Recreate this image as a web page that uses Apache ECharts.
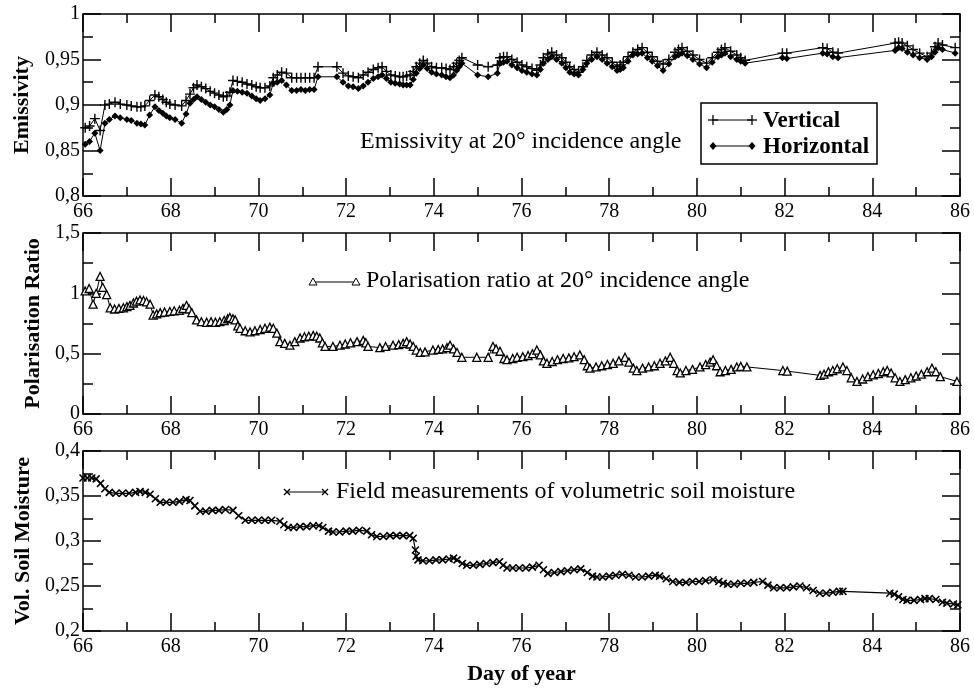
<!DOCTYPE html>
<html><head><meta charset="utf-8">
<script src="https://cdn.jsdelivr.net/npm/echarts@6/dist/echarts.min.js"></script>
<style>html,body{margin:0;padding:0;background:#fff}#c{width:974px;height:689px}</style>
</head><body><div id="c"></div>
<script>
// ---------- DATA ----------
const emisDays = [
66.05,66.15,66.27,66.39,66.5,66.6,66.73,66.85,67.0,67.1,
67.23,67.32,67.41,67.52,67.64,67.73,67.82,67.9,67.98,68.1,
68.25,68.35,68.44,68.52,68.6,68.7,68.8,68.9,69.0,69.1,
69.2,69.28,69.35,69.42,69.52,69.63,69.74,69.85,69.95,70.04,
70.15,70.26,70.34,70.43,70.53,70.64,70.76,70.87,70.97,71.07,
71.17,71.27,71.36,71.79,71.93,72.05,72.16,72.28,72.39,72.5,
72.62,72.73,72.82,72.92,73.02,73.12,73.22,73.3,73.38,73.46,
73.53,73.6,73.68,73.76,73.85,73.95,74.06,74.18,74.28,74.37,
74.45,74.52,74.58,74.64,75.0,75.24,75.45,75.51,75.59,75.67,
75.78,75.9,76.01,76.12,76.24,76.35,76.43,76.5,76.6,76.69,
76.8,76.92,77.01,77.1,77.2,77.3,77.4,77.49,77.6,77.72,
77.84,77.95,78.07,78.18,78.25,78.32,78.43,78.54,78.65,78.75,
78.87,78.98,79.1,79.23,79.36,79.5,79.58,79.66,79.78,79.91,
80.06,80.22,80.35,80.48,80.56,80.64,80.77,80.91,81.0,81.1,
81.95,82.05,82.87,82.97,83.1,83.22,84.52,84.6,84.68,84.8,
84.93,85.08,85.25,85.35,85.43,85.5,85.6,85.89];
const vertical = [
.875,.877,.885,.872,.900,.901,.903,.901,.900,.899,
.898,.898,.899,.905,.911,.909,.906,.903,.901,.900,
.899,.905,.912,.919,.922,.920,.918,.915,.913,.911,
.909,.910,.914,.927,.926,.925,.923,.922,.920,.919,
.919,.921,.930,.933,.936,.935,.930,.930,.930,.930,
.930,.930,.942,.942,.935,.932,.931,.930,.933,.936,
.939,.941,.942,.937,.933,.932,.931,.931,.932,.933,
.937,.942,.946,.949,.946,.942,.941,.941,.940,.939,
.942,.946,.949,.952,.944,.942,.944,.952,.953,.953,
.950,.947,.944,.942,.940,.938,.944,.952,.956,.958,
.955,.952,.947,.942,.939,.936,.942,.949,.955,.958,
.955,.952,.947,.942,.944,.947,.953,.958,.961,.963,
.958,.953,.948,.945,.950,.958,.961,.963,.959,.955,
.950,.946,.952,.958,.961,.963,.959,.955,.952,.949,
.957,.957,.963,.962,.958,.957,.968,.969,.968,.965,
.961,.957,.953,.957,.964,.968,.966,.963];
const horizontal = [
.857,.860,.869,.850,.880,.884,.888,.886,.884,.883,
.880,.879,.878,.889,.898,.894,.891,.888,.886,.884,
.880,.890,.902,.906,.909,.906,.903,.900,.898,.895,
.892,.895,.900,.916,.915,.914,.913,.910,.907,.905,
.907,.911,.924,.925,.927,.922,.916,.916,.917,.916,
.917,.917,.931,.931,.925,.921,.920,.918,.921,.925,
.929,.931,.933,.929,.925,.924,.923,.922,.922,.922,
.928,.935,.940,.944,.940,.936,.934,.933,.931,.930,
.933,.938,.942,.946,.933,.931,.935,.946,.947,.948,
.944,.941,.938,.936,.934,.933,.939,.946,.950,.953,
.950,.946,.941,.936,.934,.933,.939,.946,.950,.953,
.950,.946,.942,.938,.939,.941,.948,.955,.956,.957,
.952,.948,.943,.938,.945,.953,.955,.957,.954,.950,
.945,.941,.947,.953,.955,.957,.953,.950,.948,.946,
.952,.951,.957,.956,.953,.952,.960,.963,.962,.958,
.955,.952,.950,.953,.958,.963,.961,.957];

const polDays = [
66.05,66.14,66.23,66.3,66.39,66.45,66.54,66.62,66.72,66.82,
66.92,67.0,67.07,67.15,67.22,67.3,67.38,67.45,67.53,67.6,
67.68,67.76,67.86,67.98,68.08,68.2,68.28,68.36,68.42,68.48,
68.59,68.7,68.82,68.92,69.02,69.12,69.22,69.3,69.35,69.42,
69.47,69.53,69.58,69.7,69.81,69.92,70.04,70.15,70.26,70.34,
70.42,70.49,70.6,70.72,70.83,70.95,71.05,71.15,71.25,71.33,
71.4,71.46,71.52,71.7,71.86,71.98,72.1,72.25,72.39,72.45,
72.5,72.77,72.9,73.07,73.2,73.3,73.38,73.46,73.53,73.6,
73.69,73.8,73.98,74.1,74.2,74.3,74.37,74.45,74.53,74.64,
74.98,75.24,75.35,75.42,75.51,75.6,75.67,75.8,75.9,76.03,
76.15,76.25,76.35,76.43,76.5,76.58,76.7,76.82,76.95,77.08,
77.2,77.33,77.43,77.5,77.56,77.7,77.83,77.96,78.09,78.22,
78.36,78.45,78.55,78.63,78.76,78.9,79.03,79.16,79.28,79.39,
79.47,79.55,79.62,79.75,79.9,80.07,80.2,80.3,80.37,80.45,
80.53,80.65,80.78,80.91,81.0,81.14,81.96,82.06,82.81,82.9,
83.0,83.1,83.2,83.33,83.42,83.52,83.65,83.78,83.9,84.02,
84.14,84.25,84.34,84.43,84.52,84.63,84.75,84.88,85.0,85.12,
85.25,85.36,85.45,85.55,85.93];
const polRatio = [
1.02,1.04,0.91,1.0,1.14,1.05,0.99,0.88,0.87,0.875,
0.88,0.89,0.90,0.92,0.935,0.945,0.94,0.93,0.91,0.82,
0.83,0.84,0.845,0.85,0.855,0.86,0.875,0.90,0.87,0.84,
0.78,0.765,0.76,0.765,0.76,0.765,0.775,0.79,0.80,0.79,
0.78,0.73,0.71,0.69,0.68,0.69,0.70,0.71,0.72,0.71,
0.67,0.60,0.585,0.57,0.60,0.63,0.64,0.645,0.65,0.645,
0.63,0.59,0.56,0.56,0.57,0.58,0.59,0.60,0.61,0.59,
0.56,0.55,0.56,0.57,0.575,0.585,0.60,0.58,0.56,0.53,
0.51,0.515,0.53,0.535,0.54,0.55,0.57,0.54,0.51,0.47,
0.47,0.47,0.56,0.54,0.52,0.46,0.45,0.46,0.47,0.475,
0.485,0.50,0.53,0.49,0.44,0.42,0.435,0.45,0.46,0.465,
0.475,0.49,0.45,0.40,0.38,0.39,0.40,0.41,0.42,0.44,
0.47,0.43,0.38,0.36,0.38,0.39,0.40,0.42,0.44,0.47,
0.42,0.36,0.34,0.36,0.37,0.39,0.41,0.43,0.45,0.40,
0.35,0.36,0.37,0.39,0.395,0.39,0.36,0.355,0.32,0.33,
0.35,0.36,0.375,0.39,0.36,0.30,0.27,0.29,0.31,0.325,
0.335,0.35,0.36,0.34,0.30,0.27,0.285,0.30,0.315,0.33,
0.35,0.38,0.35,0.31,0.27];

const soilDays = [
66.0,66.1,66.2,66.3,66.4,66.5,66.6,66.75,66.9,67.05,
67.2,67.3,67.42,67.53,67.65,67.76,67.9,68.05,68.2,68.35,
68.44,68.55,68.67,68.8,68.95,69.1,69.25,69.42,69.55,69.7,
69.85,70.0,70.15,70.3,70.49,70.58,70.68,70.8,70.95,71.1,
71.25,71.38,71.47,71.6,71.7,71.85,72.0,72.15,72.3,72.47,
72.58,72.7,72.85,73.0,73.15,73.3,73.45,73.53,73.58,73.6,
73.64,73.75,73.9,74.05,74.2,74.35,74.45,74.53,74.65,74.75,
74.9,75.05,75.2,75.35,75.5,75.58,75.67,75.8,75.95,76.1,
76.25,76.4,76.5,76.6,76.75,76.9,77.05,77.2,77.35,77.5,
77.62,77.72,77.85,78.0,78.15,78.3,78.45,78.6,78.75,78.9,
79.05,79.15,79.3,79.45,79.6,79.75,79.9,80.05,80.2,80.37,
80.5,80.6,80.7,80.85,81.0,81.15,81.3,81.5,81.62,81.75,
81.9,82.05,82.2,82.35,82.5,82.65,82.8,82.95,83.1,83.25,
83.33,84.4,84.5,84.6,84.7,84.79,84.95,85.1,85.2,85.3,
85.45,85.6,85.7,85.85,85.95];
const soilMoisture = [
.370,.370,.370,.369,.364,.358,.354,.353,.353,.353,
.354,.355,.354,.352,.347,.343,.343,.343,.344,.346,
.345,.339,.333,.333,.334,.334,.335,.334,.328,.323,
.323,.323,.323,.323,.322,.318,.315,.315,.316,.316,
.317,.317,.315,.311,.310,.310,.311,.311,.312,.311,
.307,.305,.305,.306,.306,.306,.306,.303,.290,.283,
.279,.278,.278,.279,.279,.280,.281,.279,.275,.273,
.273,.274,.275,.276,.277,.273,.270,.270,.270,.270,
.271,.273,.268,.264,.265,.266,.267,.268,.269,.265,
.261,.260,.260,.261,.262,.263,.262,.260,.260,.261,
.262,.261,.258,.255,.254,.254,.255,.255,.256,.257,
.255,.253,.252,.252,.253,.253,.254,.255,.251,.248,
.248,.248,.249,.250,.248,.245,.242,.242,.243,.244,
.244,.242,.241,.238,.235,.234,.234,.235,.236,.236,
.235,.232,.231,.230,.229];

const seriesNames = ['Vertical', 'Horizontal'];
const panelNotes = ['Emissivity at 20° incidence angle', 'Polarisation ratio at 20° incidence angle', 'Field measurements of volumetric soil moisture'];
const yNames = ['Emissivity', 'Polarisation Ratio', 'Vol. Soil Moisture'];
const xName = 'Day of year';

// ---------- CHART ----------
const FONT = 'Liberation Serif';
const BLACK = '#000';
const pairs = (xs, ys) => xs.map((x, i) => [x, ys[i]]);
const PLUS = 'path://M5,0L5,10M0,5L10,5';
const CROSS = 'path://M0,0L10,10M10,0L0,10';
const fmt = v => String(Math.round(v * 100) / 100).replace('.', ',');

const grids = [
  {left: 83, right: 14, top: 14, height: 182},
  {left: 83, right: 14, top: 233, height: 181},
  {left: 83, right: 14, top: 451, height: 180}
].map(g => Object.assign(g, {containLabel: false, outerBoundsMode: 'none'}));

function lineStyle(w) { return {color: BLACK, width: w}; }

function xAxisPair(gi) {
  const base = {
    type: 'value', gridIndex: gi, min: 66, max: 86, interval: 2,
    axisLine: {show: true, onZero: false, lineStyle: lineStyle(1.5)},
    axisTick: {show: true, inside: true, length: 18, lineStyle: lineStyle(1.5)},
    minorTick: {show: true, splitNumber: 2, length: 9, lineStyle: lineStyle(1.5)},
    splitLine: {show: false}
  };
  const bottom = Object.assign({}, base, {
    position: 'bottom',
    axisLabel: {show: true, color: BLACK, fontFamily: FONT, fontSize: 20, margin: 6}
  });
  if (gi === 2) {
    Object.assign(bottom, {name: xName, nameLocation: 'middle', nameGap: 32,
      nameTextStyle: {color: BLACK, fontFamily: FONT, fontSize: 22, fontWeight: 'bold'}});
  }
  const top = Object.assign({}, base, {position: 'top', axisLabel: {show: false}});
  return [bottom, top];
}

function yAxisPair(gi, min, max, interval, nameGap) {
  const base = {
    type: 'value', gridIndex: gi, min: min, max: max, interval: interval,
    axisLine: {show: true, onZero: false, lineStyle: lineStyle(1.5)},
    axisTick: {show: true, inside: true, length: 18, lineStyle: lineStyle(1.5)},
    minorTick: {show: true, splitNumber: 2, length: 10, lineStyle: lineStyle(1.5)},
    splitLine: {show: false}
  };
  const left = Object.assign({}, base, {
    position: 'left',
    name: yNames[gi], nameLocation: 'middle', nameGap: nameGap,
    nameTextStyle: {color: BLACK, fontFamily: FONT, fontSize: 22, fontWeight: 'bold'},
    axisLabel: {show: true, color: BLACK, fontFamily: FONT, fontSize: 20, margin: 3, formatter: fmt}
  });
  const right = Object.assign({}, base, {position: 'right', axisLabel: {show: false}});
  return [left, right];
}

const xAxes = [].concat(xAxisPair(0), xAxisPair(1), xAxisPair(2));
const yAxes = [].concat(yAxisPair(0, 0.8, 1, 0.05, 50), yAxisPair(1, 0, 1.5, 0.5, 36), yAxisPair(2, 0.2, 0.4, 0.05, 45));

const series = [
  {name: seriesNames[0], type: 'line', xAxisIndex: 0, yAxisIndex: 0, data: pairs(emisDays, vertical),
   symbol: PLUS, symbolSize: 10, lineStyle: {color: BLACK, width: 1},
   itemStyle: {color: BLACK, borderColor: BLACK, borderWidth: 1.4}},
  {name: seriesNames[1], type: 'line', xAxisIndex: 0, yAxisIndex: 0, data: pairs(emisDays, horizontal),
   symbol: 'diamond', symbolSize: 7, lineStyle: {color: BLACK, width: 1},
   itemStyle: {color: BLACK, borderColor: BLACK, borderWidth: 0}},
  {name: 'Polarisation ratio', type: 'line', xAxisIndex: 2, yAxisIndex: 2, data: pairs(polDays, polRatio),
   symbol: 'triangle', symbolSize: 8, lineStyle: {color: BLACK, width: 1},
   itemStyle: {color: '#fff', borderColor: BLACK, borderWidth: 1.3}},
  {name: 'Soil moisture', type: 'line', xAxisIndex: 4, yAxisIndex: 4, data: pairs(soilDays, soilMoisture),
   symbol: CROSS, symbolSize: 7, lineStyle: {color: BLACK, width: 1.2},
   itemStyle: {color: BLACK, borderColor: BLACK, borderWidth: 1.6}}
].map(s => Object.assign(s, {showAllSymbol: true, animation: false, silent: true}));

// annotation / legend graphics (not data marks)
function seg(x1, y1, x2, y2, w) {
  return {type: 'line', shape: {x1, y1, x2, y2}, style: {stroke: BLACK, lineWidth: w || 1}, silent: true};
}
function plusAt(x, y) { return [seg(x - 5, y, x + 5, y, 1.3), seg(x, y - 5, x, y + 5, 1.3)]; }
function crossAt(x, y) { return [seg(x - 3, y - 3, x + 3, y + 3, 1.2), seg(x - 3, y + 3, x + 3, y - 3, 1.2)]; }
function diamondAt(x, y) {
  return {type: 'polygon', shape: {points: [[x, y - 4], [x + 3.5, y], [x, y + 4], [x - 3.5, y]]}, style: {fill: BLACK}, silent: true};
}
function triAt(x, y) {
  return {type: 'polygon', shape: {points: [[x, y - 4], [x + 4, y + 3], [x - 4, y + 3]]}, style: {fill: '#fff', stroke: BLACK, lineWidth: 1}, silent: true};
}
function txt(x, y, s, size, weight) {
  return {type: 'text', x: x, y: y, style: {text: s, fill: BLACK, font: (weight || 'normal') + ' ' + size + 'px "' + FONT + '"', textVerticalAlign: 'middle', textAlign: 'left'}, silent: true};
}

const graphic = [].concat(
  [txt(360, 142, panelNotes[0], 24)],
  [{type: 'rect', shape: {x: 701, y: 103, width: 176, height: 61}, style: {fill: '#fff', stroke: BLACK, lineWidth: 1.5}, silent: true}],
  [seg(713, 120, 752, 120)], plusAt(713, 120), plusAt(752, 120),
  [txt(763, 121, seriesNames[0], 23, 'bold')],
  [seg(713, 146, 752, 146), diamondAt(713, 146), diamondAt(752, 146)],
  [txt(763, 147, seriesNames[1], 23, 'bold')],
  [seg(313, 282, 356, 282), triAt(313, 282), triAt(356, 282)],
  [txt(366, 281, panelNotes[1], 24)],
  [seg(287, 492, 325, 492)], crossAt(287, 492), crossAt(325, 492),
  [txt(336, 492, panelNotes[2], 24)]
);

const chart = echarts.init(document.getElementById('c'), null, {renderer: 'canvas'});
chart.setOption({
  backgroundColor: '#fff',
  animation: false,
  grid: grids,
  xAxis: xAxes,
  yAxis: yAxes,
  series: series,
  graphic: {elements: graphic}
});
</script>
</body></html>
